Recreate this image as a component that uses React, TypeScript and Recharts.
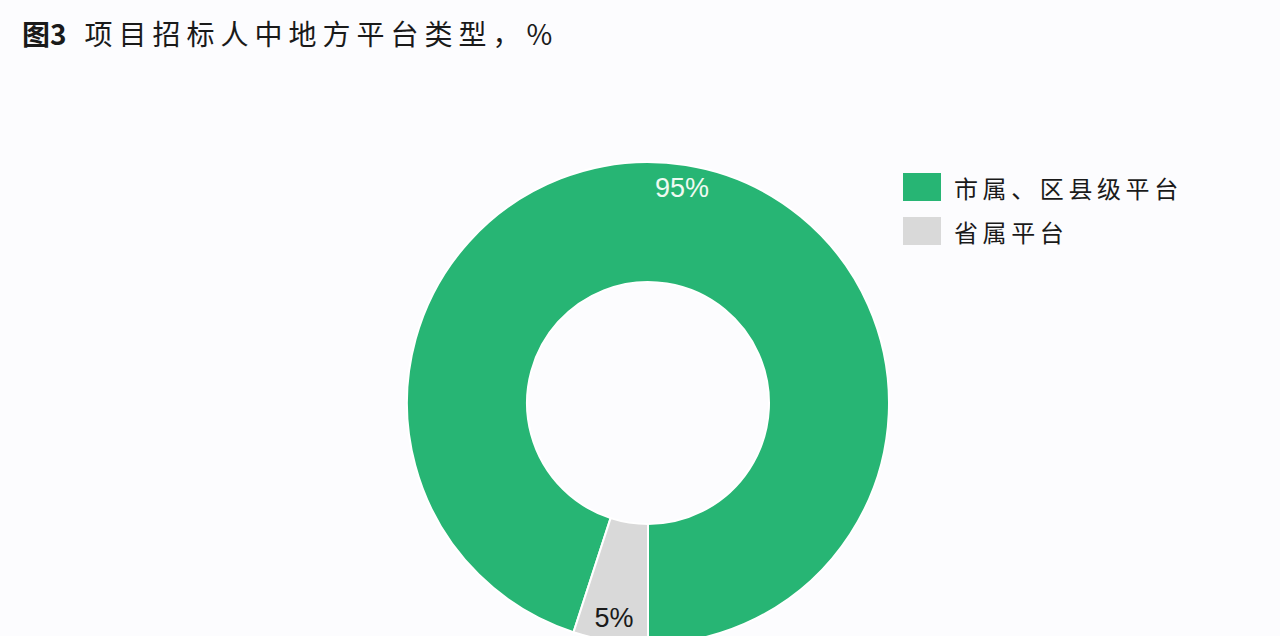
import { Cell, Legend, Pie, PieChart } from "recharts";

const categories = ["市属、区县级平台", "省属平台"];
const shares = [95, 5];
const colors = ["#27b574", "#d9d9d9"];
const labelColors = ["#effaf2", "#1a1a1a"];

const data = categories.map((name, i) => ({ name, value: shares[i] }));

const RADIAN = Math.PI / 180;

function renderLabel(props: any) {
  const { cx, cy, midAngle, index, value } = props;
  const r = 218;
  const x = cx + r * Math.cos(-midAngle * RADIAN);
  const y = cy + r * Math.sin(-midAngle * RADIAN);
  return (
    <text
      x={x}
      y={y}
      fill={labelColors[index]}
      textAnchor="middle"
      dominantBaseline="central"
      fontSize={27}
      fontFamily="'Liberation Sans', Arial, sans-serif"
    >
      {`${value}%`}
    </text>
  );
}

function LegendContent({ payload }: any) {
  return (
    <div>
      {(payload || []).map((entry: any, i: number) => (
        <div
          key={entry.value}
          style={{ display: "flex", alignItems: "center", height: 44 }}
        >
          <span
            style={{
              width: 38,
              height: 28,
              background: colors[i],
              display: "inline-block",
              marginRight: 13,
            }}
          />
          <span
            style={{
              fontSize: 24,
              letterSpacing: 4.6,
              color: "#1a1a1a",
              fontFamily: "'Noto Sans CJK SC', sans-serif",
            }}
          >
            {entry.value}
          </span>
        </div>
      ))}
    </div>
  );
}

export default function App() {
  return (
    <div
      style={{
        position: "absolute",
        left: 0,
        top: 0,
        width: 1280,
        height: 636,
        background: "#fcfcfe",
        overflow: "hidden",
      }}
    >
      <div
        style={{
          position: "absolute",
          left: 22,
          top: 13,
          fontSize: 28,
          color: "#1a1a1a",
          letterSpacing: 6,
          fontFamily: "'Noto Sans CJK SC', sans-serif",
          whiteSpace: "nowrap",
        }}
      >
        <b style={{ letterSpacing: 0 }}>图3</b>
        <span style={{ marginLeft: 18 }}>项目招标人中地方平台类型，%</span>
      </div>
      <PieChart width={1280} height={636} margin={{ top: 0, right: 0, bottom: 0, left: 0 }}>
        <Pie
          data={data}
          dataKey="value"
          nameKey="name"
          cx={648}
          cy={403}
          innerRadius={121}
          outerRadius={241}
          startAngle={252}
          endAngle={-108}
          stroke="#ffffff"
          strokeWidth={2}
          label={renderLabel}
          labelLine={false}
          isAnimationActive={false}
        >
          {data.map((d, i) => (
            <Cell key={d.name} fill={colors[i]} />
          ))}
        </Pie>
        <Legend
          layout="vertical"
          verticalAlign="top"
          align="right"
          content={<LegendContent />}
          wrapperStyle={{ left: 903, top: 165, width: 360 }}
        />
      </PieChart>
    </div>
  );
}
